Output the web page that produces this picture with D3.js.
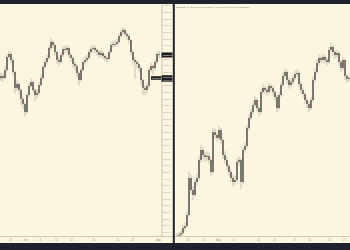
<!DOCTYPE html>
<html>
<head>
<meta charset="utf-8">
<script src="https://cdn.jsdelivr.net/npm/d3@7"></script>
<style>
  html, body { margin: 0; padding: 0; background: #fcf5df; }
  svg { display: block; }
</style>
</head>
<body>
<svg id="chart" width="350" height="250"></svg>
<script>
/* left panel: 4h candles, opens are the previous close */
var leftOpen0 = 10900;
var leftClose = [10935,10905,11025,11220,11265,11175,10995,10755,10815,10725,10590,10515,10395,10650,10785,10845,10725,10650,10680,10800,
  10905,11070,11145,11205,11355,11445,11400,11295,11175,11145,11250,11340,11325,11355,11250,11205,11115,11085,10980,10875,
  11025,11145,11175,11205,11295,11340,11355,11325,11295,11250,11280,11235,11205,11190,11295,11400,11415,11415,11445,11535,
  11595,11625,11565,11535,11475,11295,11175,11145,11115,11055,10875,10755,10725,10785,11025,11085,11055,11145,11265,11250];
var leftHigh = [10990,10980,11070,11260,11310,11290,11200,11010,10870,10840,10750,10620,10540,10680,10830,10900,10870,10750,10740,10840,
  10950,11100,11190,11250,11390,11500,11470,11420,11310,11220,11290,11380,11390,11400,11370,11280,11230,11150,11110,11000,
  11060,11180,11230,11250,11330,11380,11400,11390,11350,11320,11330,11310,11260,11240,11330,11440,11460,11470,11490,11570,
  11640,11670,11650,11600,11560,11490,11310,11210,11180,11140,11070,10900,10790,10830,11060,11130,11110,11190,11300,11310];
var leftLow = [10860,10850,10890,11000,11190,11130,10950,10680,10710,10660,10500,10440,10330,10370,10620,10760,10690,10560,10600,10650,
  10770,10880,11040,11110,11180,11320,11350,11240,11120,11090,11120,11220,11280,11290,11200,11150,11060,11020,10920,10800,
  10850,11000,11110,11140,11180,11260,11300,11280,11240,11200,11220,11190,11150,11140,11170,11270,11360,11370,11380,11420,
  11510,11560,11520,11480,11420,11240,11100,10900,11050,10990,10800,10650,10650,10680,10760,11000,10950,11020,11120,11200];

/* right panel: BTCUSD 4h */
var rightOpen0 = 9210;
var rightClose = [9224,9240,9272,9352,9384,9560,10152,9960,9880,10088,10152,10440,10600,10520,10488,10504,10440,10248,10888,10840,
  10792,10920,10760,10520,10440,10344,10248,10152,10088,10120,10408,10440,10088,10600,10664,10952,11112,11208,11320,11400,
  11272,11208,11528,11592,11560,11528,11624,11592,11528,11448,11272,11480,11640,11784,11848,11720,11640,11688,11752,11816,
  11832,11656,11560,11496,11400,11336,11272,11400,11720,11848,11992,12072,12040,12088,12040,12008,12200,12248,12168,12120,
  12152,12008,11912,12040,11784,11736,11752];
var rightHigh = [9270,9290,9320,9400,9440,9620,10250,10200,10020,10140,10220,10500,10680,10650,10580,10570,10560,10470,10950,10940,
  10880,10990,10950,10790,10580,10480,10380,10290,10200,10180,10460,10500,10470,10650,10720,11000,11170,11260,11380,11460,
  11430,11300,11580,11650,11630,11600,11680,11660,11630,11560,11480,11530,11690,11840,11900,11880,11760,11740,11800,11870,
  11890,11860,11690,11600,11530,11440,11370,11450,11770,11900,12050,12130,12110,12140,12120,12080,12250,12310,12280,12200,
  12200,12180,12040,12090,12060,11820,11800];
var rightLow = [9180,9190,9210,9250,9320,9360,9540,9900,9800,9850,10040,10120,10400,10460,10420,10430,10380,10180,10220,10780,
  10730,10760,10700,10460,10380,10280,10180,10090,10020,10040,10090,10360,9980,10060,10560,10630,10920,11080,11170,11290,
  11220,11140,11180,11490,11500,11470,11490,11540,11470,11390,11200,11240,11450,11610,11750,11660,11580,11600,11650,11720,
  11780,11600,11500,11440,11340,11270,11200,11240,11370,11690,11820,11950,11990,12000,11980,11950,11980,12160,12110,12060,
  12080,11950,11850,11880,11720,11680,11690];

/* time axis labels and the candle index they sit at */
var leftTickIdx = [4.5, 12, 19.5, 27.5, 35, 46, 58, 65.5, 78.5];
var leftTickText = ["18", "Jun", "8", "15", "22", "Jul", "13", "20", "Aug"];
var rightTickIdx = [5, 13, 20.5, 28, 40.5, 48.5, 58.5, 66, 76, 83.5];
var rightTickText = ["23", "27", "Aug", "4", "10", "13", "17", "20", "24", "27"];

/* price scale labels on the left panel */
var leftPriceTicks = d3.range(8600, 12001, 100);
var markPrice = 10905;
var title = "BTCUSD, 4h, BITSTAMP  O:11736.00  H:11800.00  L:11690.00  C:11752.00";

var svg = d3.select("#chart");
var bg = "#fcf5df", dark = "#1e222d", grid = "#cfc8b2", txt = "#a09b8c";

svg.append("rect").attr("width", 350).attr("height", 250).attr("fill", bg);

/* scales */
var xL = d3.scaleLinear().domain([-0.5, 80]).range([0, 161]);
var yL = d3.scaleLinear().domain([8520, 12015]).range([237, 4]);
var xR = d3.scaleLinear().domain([-0.5, 86.5]).range([176, 350]);
var yR = d3.scaleLinear().domain([9208, 12936]).range([237, 4]);

function toCandles(open0, close, high, low) {
  return close.map(function(c, i) {
    return {i: i, o: i ? close[i - 1] : open0, c: c, h: high[i], l: low[i]};
  });
}

function drawCandles(g, data, x, y) {
  g.selectAll("line.wick").data(data).enter().append("line")
    .attr("class", "wick")
    .attr("x1", function(d) { return x(d.i); })
    .attr("x2", function(d) { return x(d.i); })
    .attr("y1", function(d) { return y(d.h); })
    .attr("y2", function(d) { return y(d.l); })
    .attr("stroke", "#c4bfae").attr("stroke-width", 1);
  g.selectAll("rect.body").data(data).enter().append("rect")
    .attr("class", "body")
    .attr("x", function(d) { return x(d.i) - 0.5; })
    .attr("width", 1)
    .attr("y", function(d) { return y(Math.max(d.o, d.c)); })
    .attr("height", function(d) { return Math.max(0.8, Math.abs(y(d.o) - y(d.c))); })
    .attr("fill", "#151515");
}

var left = svg.append("g").attr("clip-path", "url(#clipL)");
var right = svg.append("g").attr("clip-path", "url(#clipR)");
var defs = svg.append("defs");
defs.append("clipPath").attr("id", "clipL").append("rect").attr("x", 0).attr("y", 4).attr("width", 161).attr("height", 232);
defs.append("clipPath").attr("id", "clipR").append("rect").attr("x", 175).attr("y", 4).attr("width", 175).attr("height", 232);

drawCandles(left, toCandles(leftOpen0, leftClose, leftHigh, leftLow), xL, yL);
drawCandles(right, toCandles(rightOpen0, rightClose, rightHigh, rightLow), xR, yR);

/* left price axis */
var pAxis = svg.append("g").attr("transform", "translate(161.5,0)")
  .call(d3.axisRight(yL).tickValues(leftPriceTicks).tickSize(0).tickPadding(1.5)
    .tickFormat(function(d) { return d3.format(".2f")(d); }));
pAxis.select(".domain").attr("stroke", grid).attr("stroke-width", 1);
pAxis.selectAll("text").attr("fill", txt).attr("font-size", 2.1)
  .attr("font-family", "Liberation Sans, sans-serif");

/* last price label */
var lastY = yL(leftClose[leftClose.length - 1]);
svg.append("rect").attr("x", 161.5).attr("y", lastY - 2.5).attr("width", 11).attr("height", 5).attr("fill", "#1f1f1f");
svg.append("text").attr("x", 163).attr("y", lastY + 0.8).attr("fill", "#fff").attr("font-size", 2.3)
  .attr("font-family", "Liberation Sans, sans-serif").text(d3.format(".2f")(leftClose[leftClose.length - 1]));

/* marker label, two lines */
var mY = yL(markPrice);
svg.append("rect").attr("x", 151).attr("y", mY - 1.8).attr("width", 10).attr("height", 3.6).attr("fill", "#1f1f1f");
svg.append("text").attr("x", 152).attr("y", mY + 0.8).attr("fill", "#fff").attr("font-size", 2.2)
  .attr("font-family", "Liberation Sans, sans-serif").text("10905.00");
svg.append("rect").attr("x", 161.5).attr("y", mY - 2.8).attr("width", 11).attr("height", 6.5).attr("fill", "#1f1f1f");
svg.append("text").attr("x", 163).attr("y", mY - 0.2).attr("fill", "#fff").attr("font-size", 2.2)
  .attr("font-family", "Liberation Sans, sans-serif").text(d3.format(".2f")(markPrice));
svg.append("text").attr("x", 163).attr("y", mY + 2.6).attr("fill", "#ddd").attr("font-size", 2.2)
  .attr("font-family", "Liberation Sans, sans-serif").text("10905.00");

/* time axes */
function timeAxis(x, idx, labels, x0, x1) {
  var g = svg.append("g").attr("transform", "translate(0,236.5)")
    .call(d3.axisBottom(x).tickValues(idx).tickSize(0).tickPadding(2.2)
      .tickFormat(function(d, i) { return labels[i]; }));
  g.select(".domain").remove();
  g.append("line").attr("x1", x0).attr("x2", x1).attr("stroke", grid);
  g.selectAll("text").attr("fill", txt).attr("font-size", 2.6)
    .attr("font-family", "Liberation Sans, sans-serif");
}
timeAxis(xL, leftTickIdx, leftTickText, 0, 173);
timeAxis(xR, rightTickIdx, rightTickText, 175, 350);

/* title of right pane */
svg.append("text").attr("x", 176.5).attr("y", 8).attr("fill", "#7d7869").attr("font-size", 2.4)
  .attr("font-family", "Liberation Sans, sans-serif")
  .attr("textLength", 73).attr("lengthAdjust", "spacingAndGlyphs").text(title);

/* chrome: top and bottom bars, pane separator */
svg.append("rect").attr("x", 0).attr("y", 0).attr("width", 350).attr("height", 4).attr("fill", dark);
svg.append("rect").attr("x", 0).attr("y", 243).attr("width", 350).attr("height", 7).attr("fill", dark);
svg.append("rect").attr("x", 172.8).attr("y", 4).attr("width", 2).attr("height", 239).attr("fill", dark);
</script>
</body>
</html>
